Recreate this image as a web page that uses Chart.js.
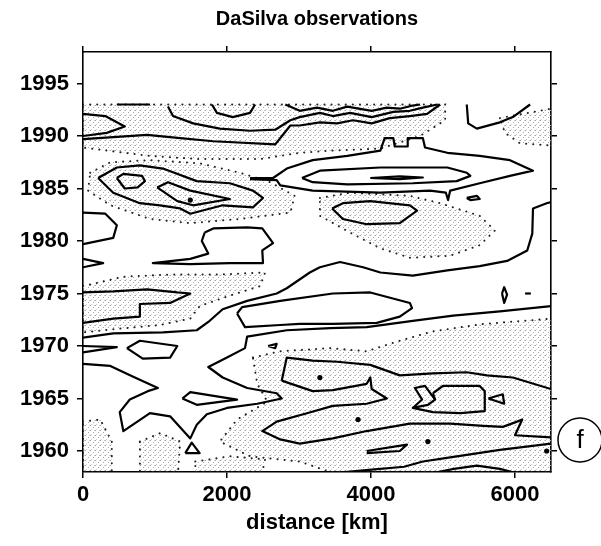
<!DOCTYPE html>
<html lang="en">
  <head>
    <meta charset="UTF-8" />
    <title>DaSilva observations</title>
    <script src="https://cdn.jsdelivr.net/npm/chart.js"></script>
    <style>
      html, body { margin: 0; padding: 0; background: #fff; }
    </style>
  </head>
  <body>
    <canvas id="contours" width="601" height="546"></canvas>

    <script>
      // axis ticks
      const xTickValues = [0, 2000, 4000, 6000];
      const yTickValues = [1960, 1965, 1970, 1975, 1980, 1985, 1990, 1995];

      // contour lines, [distance km, year]
      const bandTopEdge = [[470, 1993], [930, 1993]];
      const bandWedge = [[0, 1992.1], [310, 1991.9], [580, 1990.9], [330, 1990.3], [0, 1990.0]];
      const bandTop = [[2810, 1993], [3010, 1992.4], [3250, 1992.7], [3470, 1992.4], [3670, 1992.8], [4010, 1992.4], [4220, 1992.7], [4400, 1992.6], [4580, 1992.9], [4680, 1993]];
      const bandUpper = [[1180, 1992.8], [1250, 1991.9], [1530, 1991.2], [1900, 1990.7], [2320, 1990.5], [2670, 1990.6], [2880, 1991.5], [3010, 1991.8], [3290, 1992.2], [3470, 1991.9], [3710, 1992.2], [4010, 1991.8], [4310, 1992.3], [4540, 1992.4], [4720, 1992.7], [4920, 1993]];
      const bandLower = [[0, 1989.7], [420, 1989.9], [890, 1990.1], [1350, 1989.8], [1810, 1989.5], [2670, 1989.2], [2880, 1991.0], [3010, 1991.0], [3290, 1991.3], [3530, 1991.2], [3750, 1991.5], [4010, 1991.2], [4260, 1991.7], [4540, 1991.9], [4780, 1992.1], [4960, 1993]];
      const topBowl = [[1790, 1993], [1860, 1992.2], [2080, 1991.8], [2320, 1992.2], [2390, 1993]];
      const topRight = [[5330, 1993], [5350, 1991.2], [5470, 1990.7], [5790, 1991.3], [5970, 1991.8], [6210, 1993]];

      const ridgeOuter = [[2320, 1986.0], [2640, 1986.0], [2830, 1986.9], [3190, 1987.7], [3670, 1988.1], [4130, 1988.6], [4190, 1989.8], [4310, 1989.8], [4330, 1989.0], [4500, 1989.0], [4510, 1989.8], [4720, 1989.8], [4750, 1988.9], [5060, 1988.4], [5510, 1988.1], [5930, 1987.7], [6250, 1986.7], [5930, 1986.2], [5510, 1985.5], [5100, 1984.8], [5070, 1983.9], [5040, 1984.6], [4820, 1984.8], [4130, 1984.6], [3190, 1984.8], [2740, 1985.3], [2690, 1985.8], [2320, 1985.9]];
      const ridgeInner = [[3040, 1986.0], [3290, 1986.7], [4130, 1987.0], [5060, 1987.0], [5330, 1986.5], [5380, 1986.2], [5190, 1985.7], [4580, 1985.5], [3670, 1985.4], [3190, 1985.6], [3040, 1986.0]];
      const ridgeCore = [[3990, 1986.0], [4400, 1986.15], [4720, 1986.05], [4400, 1985.9], [3990, 1986.0]];
      const ridgeSpot = [[5330, 1984.1], [5470, 1984.3], [5510, 1984.0], [5380, 1983.9], [5330, 1984.1]];

      const lobeOuter = [[210, 1986.0], [470, 1987.0], [790, 1987.2], [1110, 1986.9], [1580, 1985.7], [2040, 1985.5], [2360, 1984.8], [2500, 1984.1], [2360, 1983.2], [1940, 1983.4], [1490, 1982.6], [1350, 1983.1], [1070, 1983.4], [790, 1983.6], [420, 1984.6], [210, 1986.0]];
      const lobeInnerL = [[470, 1986.0], [560, 1986.4], [820, 1986.2], [860, 1985.7], [760, 1985.1], [580, 1985.0], [470, 1986.0]];
      const lobeInnerR = [[1030, 1985.1], [1180, 1985.6], [1490, 1984.8], [2040, 1984.0], [1530, 1983.4], [1310, 1983.8], [1030, 1985.1]];
      const hexagon = [[3460, 1983.1], [3610, 1983.6], [3990, 1983.8], [4540, 1983.4], [4640, 1982.9], [4400, 1981.7], [3940, 1981.6], [3610, 1982.1], [3460, 1983.1]];

      const edgeLobe = [[0, 1982.7], [310, 1982.6], [470, 1981.5], [420, 1980.3], [0, 1979.7]];
      const midBlob = [[1690, 1980.8], [1810, 1981.2], [2280, 1981.3], [2490, 1981.2], [2640, 1979.8], [2490, 1979.1], [2500, 1977.9], [2040, 1977.9], [1490, 1977.8], [970, 1977.9], [1490, 1978.3], [1740, 1978.8], [1650, 1980.0], [1690, 1980.8]];
      const edgeWedge1 = [[0, 1978.3], [280, 1977.9], [0, 1977.5]];
      const sCurve = [[6500, 1983.7], [6440, 1983.6], [6250, 1983.1], [6240, 1980.7], [6170, 1979.1], [5890, 1978.1], [5510, 1977.6], [5060, 1977.2], [4580, 1976.7], [4130, 1977.0], [3890, 1977.5], [3570, 1978.0], [3290, 1977.5], [3150, 1977.0], [2830, 1975.5], [2690, 1975.0], [2280, 1974.3], [1940, 1973.5], [1760, 1972.4], [1580, 1971.5], [1110, 1971.3], [420, 1971.2], [0, 1970.8]];
      const edgeLobeA = [[0, 1975.1], [420, 1975.2], [890, 1975.4], [1310, 1975.1], [1490, 1975.0], [1210, 1974.1], [790, 1974.0], [790, 1972.8], [420, 1972.6], [0, 1972.2]];
      const blobC = [[2140, 1973.1], [2210, 1973.7], [2740, 1974.3], [3470, 1975.0], [3990, 1975.1], [4540, 1974.1], [4570, 1973.6], [4400, 1972.8], [4080, 1972.2], [3470, 1972.1], [3010, 1972.1], [2740, 1972.0], [2250, 1971.8], [2140, 1973.1]];
      const diamond = [[5820, 1975.0], [5850, 1975.6], [5890, 1974.9], [5850, 1974.1], [5820, 1975.0]];
      const dash = [[6140, 1975.0], [6220, 1975.0]];

      const longContour = [[6500, 1973.8], [5790, 1973.3], [5140, 1972.9], [4580, 1972.4], [3940, 1971.8], [3430, 1971.7], [2830, 1971.5], [2280, 1970.9], [2250, 1969.8], [2000, 1968.9], [1740, 1968.0], [1940, 1967.0], [2280, 1966.0], [2690, 1965.5], [2760, 1965.0], [2420, 1964.5], [2000, 1964.1], [1720, 1963.5], [1580, 1962.5], [1490, 1961.2], [1210, 1963.3], [930, 1963.6], [560, 1961.9], [510, 1963.7], [650, 1964.9], [900, 1965.7], [1040, 1966.0], [690, 1967.1], [380, 1968.1], [0, 1968.3]];
      const smallOval = [[610, 1969.8], [790, 1970.5], [1310, 1970.0], [1210, 1968.9], [830, 1968.8], [610, 1969.8]];
      const edgeWedge2 = [[0, 1970.0], [470, 1969.9], [0, 1969.4]];
      const wedgeG = [[1380, 1965.0], [1490, 1965.6], [2140, 1964.9], [1580, 1964.4], [1380, 1965.0]];
      const triBottom = [[1420, 1959.8], [1510, 1960.8], [1620, 1959.8], [1420, 1959.8]];
      const triTiny = [[2570, 1970.0], [2690, 1970.2], [2670, 1969.8], [2570, 1970.0]];

      const upperJ = [[2760, 1966.7], [2830, 1968.9], [3190, 1968.6], [3530, 1968.5], [3990, 1968.2], [4400, 1967.2], [4860, 1967.4], [5330, 1967.5], [5610, 1967.2], [5970, 1967.0], [6500, 1965.9]];
      const chainK = [[2760, 1966.7], [3190, 1965.7], [3470, 1965.8], [3940, 1966.4], [3990, 1967.0], [4010, 1965.9], [4220, 1965.0], [3940, 1964.5], [3470, 1964.3], [3110, 1963.6], [2690, 1962.8], [2490, 1961.9], [2740, 1961.1], [3010, 1960.7], [3470, 1961.2], [3940, 1961.9], [4540, 1962.6], [5100, 1962.6], [5560, 1962.4], [5830, 1962.3], [6030, 1962.8], [6100, 1963.0], [6000, 1961.5], [6500, 1961.3]];
      const boxM = [[4860, 1965.5], [5000, 1966.2], [5510, 1966.2], [5580, 1965.7], [5580, 1963.8], [5240, 1963.6], [4860, 1963.7], [4580, 1964.1], [4790, 1964.4], [4890, 1964.9], [4860, 1965.5]];
      const bowTie = [[4580, 1964.1], [4710, 1964.9], [4610, 1966.0], [4750, 1966.2], [4890, 1964.9]];
      const triN = [[5630, 1965.0], [5830, 1965.4], [5850, 1964.5], [5630, 1965.0]];
      const wedgeQ = [[3940, 1960.0], [4500, 1960.6], [4400, 1960.0], [3940, 1959.8]];
      const lineR = [[3640, 1958], [3970, 1958.2], [4460, 1958.5], [4720, 1959.0], [5100, 1959.4], [5790, 1960.1], [6500, 1960.7]];
      const lineS = [[4930, 1958], [5150, 1958.3], [5470, 1958.6], [5790, 1958.3], [5960, 1958]];

      // isolated extrema
      const spots = [[1490, 1983.9], [3290, 1967.0], [3820, 1963.0], [4790, 1960.9], [6440, 1960.0]];

      // stippled (negative) regions
      const shadeTop = [[0, 1993], [5030, 1993], [5030, 1991.5], [4680, 1990.0], [4130, 1988.8], [3430, 1988.6], [3010, 1988.4], [2460, 1987.8], [1620, 1987.8], [930, 1988.1], [0, 1988.9], [0, 1993]];
      const shadeTopRight = [[5790, 1991.7], [6500, 1992.6], [6500, 1989.1], [6070, 1989.3], [5860, 1990.3], [5790, 1991.7]];
      const shadeLobes = [[100, 1986.5], [380, 1987.5], [930, 1987.7], [1620, 1987.4], [2180, 1986.5], [2600, 1985.6], [2940, 1984.3], [2880, 1982.7], [2180, 1982.1], [1490, 1981.7], [930, 1982.1], [380, 1983.4], [70, 1984.8], [100, 1986.5]];
      const shadeHex = [[3290, 1984.1], [3710, 1984.6], [4540, 1984.3], [4960, 1983.6], [5510, 1982.4], [5720, 1981.0], [5510, 1979.6], [5100, 1978.6], [4540, 1978.4], [4130, 1979.3], [3710, 1980.8], [3290, 1982.4], [3290, 1984.1]];
      const shadeLeft = [[0, 1975.7], [560, 1976.6], [1210, 1976.8], [1830, 1976.8], [2530, 1977.0], [2460, 1975.7], [2040, 1974.8], [1620, 1973.8], [1490, 1972.6], [1070, 1972.0], [420, 1971.6], [0, 1971.3], [0, 1975.7]];
      const shadeLow = [[2360, 1968.9], [2740, 1969.5], [3430, 1969.8], [3940, 1969.5], [4400, 1970.5], [4860, 1971.4], [5560, 1972.1], [6500, 1972.6], [6500, 1958], [3430, 1958], [3010, 1959.0], [2320, 1959.5], [1900, 1960.9], [2140, 1963.0], [2560, 1964.7], [2420, 1966.4], [2360, 1968.9]];
      const shadeBL1 = [[0, 1962.8], [240, 1963.0], [400, 1960.9], [400, 1958], [0, 1958], [0, 1962.8]];
      const shadeBL2 = [[790, 1960.9], [1070, 1961.7], [1350, 1960.9], [1320, 1958], [790, 1958], [790, 1960.9]];
      const shadeBL3 = [[1560, 1959.0], [2040, 1959.5], [2530, 1959.2], [2490, 1958], [1560, 1958], [1560, 1959.0]];

      const contourLines = [
        bandTopEdge, bandWedge, bandTop, bandUpper, bandLower, topBowl, topRight,
        ridgeOuter, ridgeInner, ridgeCore, ridgeSpot,
        lobeOuter, lobeInnerL, lobeInnerR, hexagon,
        edgeLobe, midBlob, edgeWedge1, sCurve, edgeLobeA, blobC, diamond, dash,
        longContour, smallOval, edgeWedge2, wedgeG, triBottom, triTiny,
        upperJ, chainK, boxM, bowTie, triN, wedgeQ, lineR, lineS,
      ];
      const shadedAreas = [
        shadeTop, shadeTopRight, shadeLobes, shadeHex, shadeLeft,
        shadeLow, shadeBL1, shadeBL2, shadeBL3,
      ];

      const toPoints = (pairs) => pairs.map(([x, y]) => ({ x: x, y: y }));

      // light grey stipple used for the shaded areas
      function makeStipple() {
        const c = document.createElement('canvas');
        c.width = 5;
        c.height = 5;
        const g = c.getContext('2d');
        g.fillStyle = '#a6a6a6';
        g.fillRect(0, 0, 1, 1);
        g.fillRect(3, 2, 1, 1);
        g.fillStyle = '#cfcfcf';
        g.fillRect(1, 4, 1, 1);
        g.fillRect(4, 0, 1, 1);
        return g.createPattern(c, 'repeat');
      }
      const stipple = makeStipple();

      const datasets = [];
      contourLines.forEach((line) => {
        datasets.push({
          data: toPoints(line),
          showLine: true,
          borderColor: '#000',
          borderWidth: 2.2,
          borderJoinStyle: 'round',
          pointRadius: 0,
          fill: false,
          order: 1,
        });
      });
      shadedAreas.forEach((area) => {
        datasets.push({
          data: toPoints(area),
          showLine: true,
          borderColor: '#222',
          borderWidth: 2,
          borderDash: [0.1, 7],
          borderCapStyle: 'round',
          backgroundColor: stipple,
          pointRadius: 0,
          fill: 'shape',
          order: 3,
        });
      });
      datasets.push({
        data: toPoints(spots),
        showLine: false,
        pointRadius: 2.6,
        pointBackgroundColor: '#000',
        pointBorderWidth: 0,
        order: 0,
      });

      const font = '"Liberation Sans", Arial, Helvetica, sans-serif';
      const plainLabel = (v) => String(v);
      const axisBase = {
        type: 'linear',
        border: { display: true, color: '#000', width: 1.6 },
        grid: { drawOnChartArea: false, drawTicks: true, tickLength: 6, color: '#000', lineWidth: 1.5 },
      };

      // circled panel letter
      const panelLetter = {
        id: 'panelLetter',
        afterDraw(chart) {
          const { ctx, chartArea, scales } = chart;
          const cx = chartArea.right + 29;
          const cy = scales.y.getPixelForValue(1961.05);
          ctx.save();
          ctx.beginPath();
          ctx.arc(cx, cy, 22, 0, Math.PI * 2);
          ctx.lineWidth = 1.5;
          ctx.strokeStyle = '#000';
          ctx.stroke();
          ctx.fillStyle = '#000';
          ctx.font = '26px ' + font;
          ctx.textAlign = 'center';
          ctx.textBaseline = 'middle';
          ctx.fillText('f', cx, cy + 1);
          ctx.restore();
        },
      };

      new Chart(document.getElementById('contours').getContext('2d'), {
        type: 'scatter',
        data: { datasets: datasets },
        options: {
          responsive: false,
          animation: false,
          layout: { padding: 0 },
          plugins: {
            legend: { display: false },
            tooltip: { enabled: false },
            title: {
              display: true,
              text: 'DaSilva observations',
              fullSize: false,
              color: '#000',
              font: { family: font, size: 20, weight: 'bold' },
              padding: { top: 7, bottom: 13 },
            },
          },
          scales: {
            x: {
              ...axisBase,
              position: 'bottom',
              min: 0,
              max: 6500,
              afterBuildTicks: (s) => { s.ticks = xTickValues.map((v) => ({ value: v })); },
              afterFit: (s) => { s.height = 74; },
              ticks: { color: '#000', padding: 4, callback: plainLabel, font: { family: font, size: 22, weight: 'bold' } },
              title: {
                display: true,
                text: 'distance [km]',
                color: '#000',
                padding: { top: 0, bottom: 10 },
                font: { family: font, size: 22, weight: 'bold' },
              },
            },
            xTop: {
              ...axisBase,
              position: 'top',
              min: 0,
              max: 6500,
              afterBuildTicks: (s) => { s.ticks = xTickValues.map((v) => ({ value: v })); },
              afterFit: (s) => { s.height = 8; },
              ticks: { display: false },
            },
            y: {
              ...axisBase,
              position: 'left',
              min: 1958,
              max: 1998,
              afterBuildTicks: (s) => { s.ticks = yTickValues.map((v) => ({ value: v })); },
              afterFit: (s) => { s.width = 83; },
              ticks: { color: '#000', padding: 8, callback: plainLabel, font: { family: font, size: 22, weight: 'bold' } },
            },
            yRight: {
              ...axisBase,
              position: 'right',
              min: 1958,
              max: 1998,
              afterBuildTicks: (s) => { s.ticks = yTickValues.map((v) => ({ value: v })); },
              afterFit: (s) => { s.width = 50; },
              ticks: { display: false },
            },
          },
        },
        plugins: [panelLetter],
      });
    </script>
  </body>
</html>
